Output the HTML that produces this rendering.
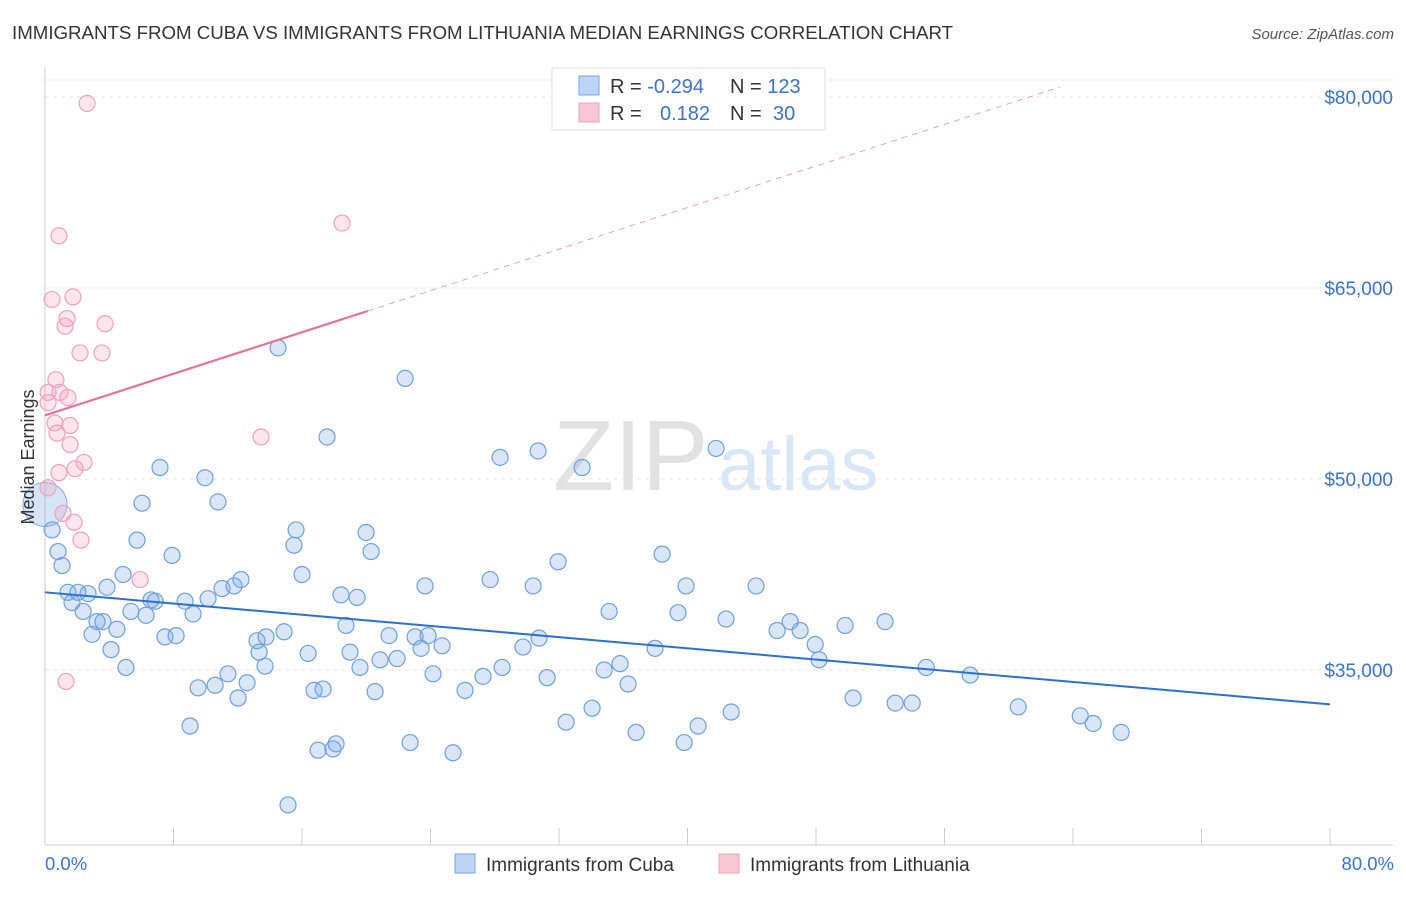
<!DOCTYPE html>
<html><head><meta charset="utf-8"><style>
body{margin:0;background:#fff;font-family:"Liberation Sans",sans-serif;}
svg text{font-family:"Liberation Sans",sans-serif;}
</style></head><body>
<svg id="chart" width="1406" height="892" xmlns="http://www.w3.org/2000/svg">
<text x="12" y="39" font-size="18.7" fill="#333">IMMIGRANTS FROM CUBA VS IMMIGRANTS FROM LITHUANIA MEDIAN EARNINGS CORRELATION CHART</text>
<text x="1394" y="39" font-size="15" fill="#555" font-style="italic" text-anchor="end">Source: ZipAtlas.com</text>
<g>
<text x="553" y="490" font-size="100" font-family="Liberation Serif" fill="#e2e2e2">ZIP</text>
<text x="718" y="490" font-size="76" fill="#d8e6f6">atlas</text>
</g>
<g id="grid"></g>
<g id="marks"></g>
<text transform="translate(34,457) rotate(-90)" font-size="18" fill="#333" text-anchor="middle">Median Earnings</text>
<text x="45" y="870" font-size="18.5" fill="#3a72d4">0.0%</text>
<text x="1394" y="870" font-size="18.5" fill="#3a72d4" text-anchor="end">80.0%</text>
<g>
<rect x="552" y="68" width="273" height="62" fill="#fff" stroke="#ddd"/>
<rect x="579" y="76" width="20" height="19" fill="#bcd4f5" stroke="#7aa6e6"/>
<rect x="579" y="103" width="20" height="19" fill="#f9c6d6" stroke="#f0a0bc"/>
<text x="610" y="93" font-size="20" fill="#333">R = <tspan fill="#3a72d4">-0.294</tspan></text>
<text x="730" y="93" font-size="20" fill="#333">N = <tspan fill="#3a72d4">123</tspan></text>
<text x="610" y="120" font-size="20" fill="#333">R = <tspan fill="#3a72d4" x="660">0.182</tspan></text>
<text x="730" y="120" font-size="20" fill="#333">N = <tspan fill="#3a72d4" x="773">30</tspan></text>
</g>
<g>
<rect x="455" y="854" width="20" height="19" fill="#bcd4f5" stroke="#7aa6e6"/>
<text x="486" y="871" font-size="19" fill="#333">Immigrants from Cuba</text>
<rect x="719" y="854" width="20" height="19" fill="#f9c6d6" stroke="#f0a0bc"/>
<text x="750" y="871" font-size="19" fill="#333">Immigrants from Lithuania</text>
</g>
</svg>
<script>
const yTicks=[35000,50000,65000,80000];
const yTickLabels=["$35,000","$50,000","$65,000","$80,000"];
const xTicks=[0,10,20,30,40,50,60,70,80,90,100];
const cubaX=[0.44,0.81,1.06,1.43,1.68,2.05,2.37,2.68,2.93,3.24,3.61,3.86,4.11,4.48,4.86,5.04,5.35,5.73,6.04,6.29,6.6,6.85,7.16,7.47,7.91,8.16,8.72,9.03,9.22,9.53,9.96,10.15,10.59,10.77,11.02,11.39,11.77,12.02,12.2,12.58,13.2,13.33,13.7,13.76,14.51,14.88,15.13,15.5,15.63,16.0,16.38,16.75,17.0,17.31,17.56,17.93,18.12,18.43,18.74,18.99,19.43,19.61,19.99,20.3,20.55,20.86,21.42,21.92,22.42,22.73,23.04,23.41,23.66,23.85,24.16,24.72,25.4,26.15,27.27,27.71,28.33,28.46,29.76,30.39,30.7,30.76,31.26,31.94,32.44,33.44,34.06,34.81,35.12,35.8,36.3,36.8,37.98,38.42,39.41,39.79,39.91,40.66,41.78,42.4,42.72,44.27,45.58,46.39,47.01,47.95,48.19,49.81,50.31,52.3,52.93,53.99,54.86,57.6,60.59,64.45,65.26,67.0];
const cubaY=[46.0,44.3,43.2,41.1,40.3,41.1,39.6,41.0,37.8,38.8,38.8,41.5,36.6,38.2,42.5,35.2,39.6,45.2,48.1,39.3,40.5,40.4,50.9,37.6,44.0,37.7,40.4,30.6,39.4,33.6,50.1,40.6,33.8,48.2,41.4,34.7,41.6,32.8,42.1,34.0,37.3,36.4,35.3,37.6,60.3,38.0,24.4,44.8,46.0,42.5,36.3,33.4,28.7,33.5,53.3,28.8,29.2,40.9,38.5,36.4,40.7,35.2,45.8,44.3,33.3,35.8,37.7,35.9,57.9,29.3,37.6,36.7,41.6,37.7,34.7,36.9,28.5,33.4,34.5,42.1,51.7,35.2,36.8,41.6,52.2,37.5,34.4,43.5,30.9,50.9,32.0,35.0,39.6,35.5,33.9,30.1,36.7,44.1,39.5,29.3,41.6,30.6,52.4,39.0,31.7,41.6,38.1,38.8,38.1,37.0,35.8,38.5,32.8,38.8,32.4,32.4,35.2,34.6,32.1,31.4,30.8,30.1];
const cubaBig=[0,48.0];
const lithX=[2.62,0.87,18.49,0.44,1.74,1.37,1.25,3.74,2.18,3.55,0.68,0.19,0.93,1.43,0.19,0.62,1.56,0.75,1.56,2.43,0.87,1.87,0.19,1.12,1.81,2.24,5.92,1.31,13.45];
const lithY=[79.5,69.1,70.1,64.1,64.3,62.6,62.0,62.2,59.9,59.9,57.8,56.8,56.8,56.4,56.0,54.4,54.2,53.6,52.7,51.3,50.5,50.8,49.3,47.3,46.6,45.2,42.1,34.1,53.3];
const cubaTrend=[41.1,32.3];
const lithTrend=[55.0,0.408];
const lithSolidEnd=20.1, lithDashEnd=63.2;

const NS="http://www.w3.org/2000/svg";
const X0=45,X1=1330,XMAX=80,YREF=97,YPX=12.733;
const sx=p=>X0+(p/XMAX)*(X1-X0);
const sy=k=>YREF+(80-k)*YPX;
function mk(tag,attrs,parent){const e=document.createElementNS(NS,tag);for(const k in attrs)e.setAttribute(k,attrs[k]);parent.appendChild(e);return e;}
const gridG=document.getElementById('grid'),marksG=document.getElementById('marks');
yTicks.forEach((v,i)=>{
 const y=sy(v/1000);
 const l=mk('line',{x1:45,x2:1393,y1:y,y2:y,stroke:'#e4e4e4','stroke-dasharray':'4,4'},gridG);
 
 
 const t=mk('text',{x:1393,y:y+7,'font-size':19,fill:'#3a72d4','text-anchor':'end'},gridG);
 t.textContent=yTickLabels[i];
 
 
});
const topGrid=mk('line',{x1:45,x2:1393,y1:80,y2:80,stroke:'#e4e4e4','stroke-dasharray':'4,4'},gridG);


const axX=mk('line',{x1:45,x2:1393,y1:845,y2:845,stroke:'#ccc'},gridG);


const axY=mk('line',{x1:45,x2:45,y1:68,y2:845,stroke:'#ccc'},gridG);


xTicks.forEach(p=>{
 const x=X0+(p/100)*(X1-X0);
 const t=mk('line',{x1:x,x2:x,y1:828,y2:845,stroke:'#ccc'},gridG);
 
 
});
const big=mk('circle',{cx:sx(cubaBig[0]),cy:sy(cubaBig[1]),r:22,fill:'rgba(120,165,230,0.3)',stroke:'#8ab0e6'},marksG);


cubaX.forEach((p,i)=>{
 const c=mk('circle',{cx:sx(p),cy:sy(cubaY[i]),r:8,fill:'rgba(120,165,230,0.28)',stroke:'#6f9fe0','stroke-width':1.2},marksG);
 
 
});
lithX.forEach((p,i)=>{
 const c=mk('circle',{cx:sx(p),cy:sy(lithY[i]),r:8,fill:'rgba(245,160,190,0.28)',stroke:'#f0a0bc','stroke-width':1.2},marksG);
 
 
});
const bt=mk('line',{x1:sx(0),y1:sy(cubaTrend[0]),x2:sx(80),y2:sy(cubaTrend[1]),stroke:'#2a6fd6','stroke-width':2},marksG);


const lv=p=>lithTrend[0]+lithTrend[1]*p;
const pt=mk('line',{x1:sx(0),y1:sy(lv(0)),x2:sx(lithSolidEnd),y2:sy(lv(lithSolidEnd)),stroke:'#e8709a','stroke-width':2.2},marksG);


const pd=mk('line',{x1:sx(lithSolidEnd),y1:sy(lv(lithSolidEnd)),x2:sx(lithDashEnd),y2:sy(lv(lithDashEnd)),stroke:'#f0a0bc','stroke-width':1,'stroke-dasharray':'6,5'},marksG);


</script>
</body></html>
